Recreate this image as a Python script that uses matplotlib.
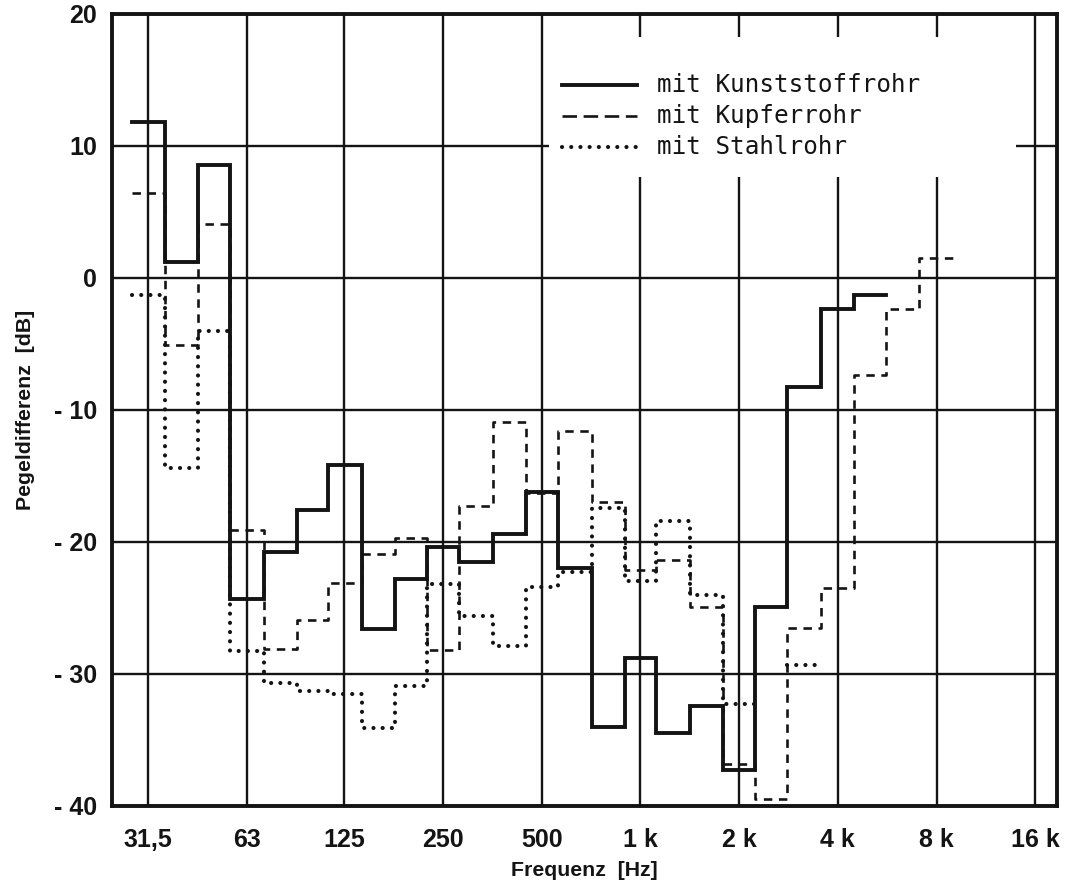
import matplotlib
matplotlib.use("Agg")
import matplotlib.pyplot as plt
from matplotlib.patches import Rectangle
import numpy as np

# Third-octave band centre frequencies [Hz]
band_hz = [31.5, 40, 50, 63, 80, 100, 125, 160, 200, 250, 315, 400, 500,
           630, 800, 1000, 1250, 1600, 2000, 2500, 3150, 4000, 5000, 6300, 8000]

# Level differences per band [dB]
kunststoff = [11.8, 1.2, 8.5, -24.3, -20.8, -17.6, -14.2, -26.6, -22.8, -20.4,
              -21.5, -19.4, -16.2, -22.0, -34.0, -28.8, -34.5, -32.4, -37.3,
              -24.9, -8.3, -2.4, -1.3]
kupfer = [6.4, -5.1, 4.1, -19.1, -28.1, -25.9, -23.1, -20.9, -19.7, -28.2,
          -17.3, -10.9, -16.3, -11.6, -17.0, -22.1, -21.4, -24.9, -36.8,
          -39.5, -26.5, -23.5, -7.4, -2.4, 1.5]
stahl = [-1.3, -14.4, -4.0, -28.3, -30.7, -31.3, -31.5, -34.1, -30.9, -23.2,
         -25.6, -27.9, -23.4, -22.3, -17.4, -23.0, -18.4, -24.0, -32.3, None,
         -29.3]

legend_labels = ["mit Kunststoffrohr", "mit Kupferrohr", "mit Stahlrohr"]

x_ticks = [31.5, 63, 125, 250, 500, 1000, 2000, 4000, 8000, 16000]
x_ticklabels = ["31,5", "63", "125", "250", "500", "1 k", "2 k", "4 k", "8 k", "16 k"]
y_ticks = [20, 10, 0, -10, -20, -30, -40]
y_ticklabels = ["20", "10", "0", "- 10", "- 20", "- 30", "- 40"]

INK = "#141414"


def band_edges(freqs):
    f = np.asarray(freqs, dtype=float)
    inner = np.sqrt(f[:-1] * f[1:])
    lo = np.concatenate([[f[0] / 2 ** (1 / 6)], inner])
    hi = np.concatenate([inner, [f[-1] * 2 ** (1 / 6)]])
    return lo, hi


def step_path(values):
    """Band-wise staircase; missing bands leave a gap."""
    lo, hi = band_edges(band_hz)
    xs, ys = [], []
    vals = [np.nan if v is None else float(v) for v in values]
    for i, v in enumerate(vals):
        if np.isnan(v):
            continue
        xs += [lo[i], hi[i]]
        ys += [v, v]
        nxt = vals[i + 1] if i + 1 < len(vals) else np.nan
        if np.isnan(nxt):
            xs.append(np.nan)
            ys.append(np.nan)
    return np.array(xs), np.array(ys)


fig = plt.figure(figsize=(10.69, 8.91), dpi=100)
ax = fig.add_axes([0.1048, 0.0954, 0.8840, 0.8894])

ax.set_xscale("log", base=2)
ax.set_xlim(24.46, 18650)
ax.set_ylim(-40, 20)

dotted = dict(lw=3.0, linestyle=(0, (0.01, 2.2)), dash_capstyle="round")

# Measured curves
x, y = step_path(kunststoff)
ax.plot(x, y, color=INK, lw=2.8, solid_joinstyle="miter", zorder=3)
x, y = step_path(kupfer)
ax.plot(x, y, color=INK, lw=1.9, linestyle=(0, (3.2, 2.5)), zorder=3)
x, y = step_path(stahl)
ax.plot(x, y, color=INK, zorder=3, **dotted)

# Axes, ticks and grid
ax.set_xticks(x_ticks)
ax.set_xticklabels(x_ticklabels)
ax.minorticks_off()
ax.set_yticks(y_ticks)
ax.set_yticklabels(y_ticklabels)
ax.tick_params(axis="both", length=0, labelsize=18, colors=INK)
ax.tick_params(axis="x", pad=16)
ax.tick_params(axis="y", pad=11)
for lab in ax.get_xticklabels() + ax.get_yticklabels():
    lab.set_fontfamily("Liberation Sans")
    lab.set_fontweight("bold")

ax.set_axisbelow(True)
ax.grid(True, color=INK, lw=1.7)
for sp in ax.spines.values():
    sp.set_linewidth(2.8)
    sp.set_color(INK)

ax.set_xlabel("Frequenz  [Hz]", fontsize=15.3, family="Liberation Sans",
              fontweight="bold", color=INK)
ax.set_ylabel("Pegeldifferenz  [dB]", fontsize=15.3, family="Liberation Sans",
              fontweight="bold", color=INK)
ax.xaxis.set_label_coords(0.5, -0.07)
ax.yaxis.set_label_coords(-0.082, 0.5)

# Legend block
ax.add_patch(Rectangle((0.462, 0.794), 0.495, 0.176, transform=ax.transAxes,
                       facecolor="white", edgecolor="none", zorder=2.5))
rows = [0.910, 0.871, 0.832]
styles = [dict(lw=2.8),
          dict(lw=1.9, linestyle=(0, (5.5, 2.5))),
          dotted]
for yr, st, lab in zip(rows, styles, legend_labels):
    ax.plot([0.476, 0.556], [yr, yr], transform=ax.transAxes, color=INK,
            zorder=4, clip_on=False, **st)
    ax.text(0.577, yr, lab, transform=ax.transAxes, va="center", ha="left",
            fontsize=17.5, family="DejaVu Sans Mono", color=INK, zorder=4)

fig.savefig("out.png", dpi=100, facecolor="white")
